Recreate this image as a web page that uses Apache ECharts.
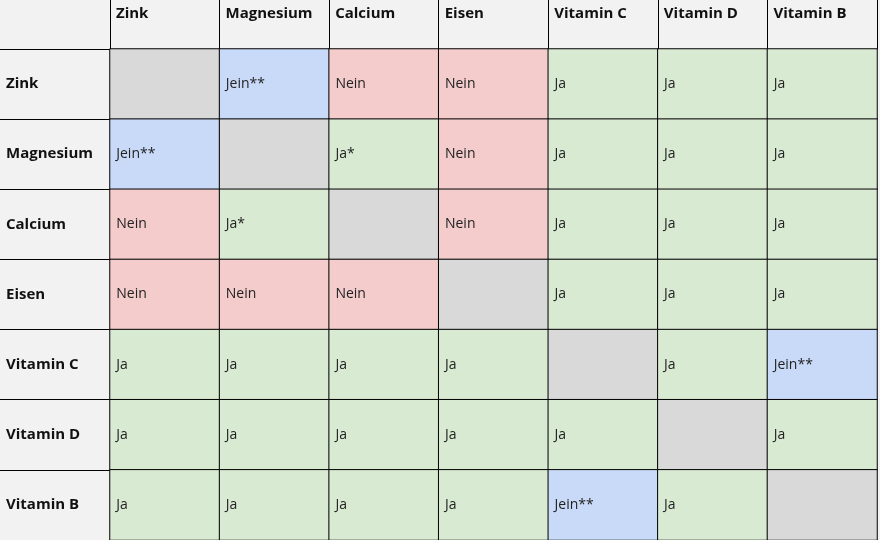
<!DOCTYPE html>
<html><head><meta charset="utf-8">
<script src="https://cdn.jsdelivr.net/npm/echarts@6/dist/echarts.min.js"></script>
<style>html,body{margin:0;padding:0;background:#f2f2f2}#c{width:880px;height:540px}</style>
</head><body><div id="c"></div>
<script>
const cols = ['Zink','Magnesium','Calcium','Eisen','Vitamin C','Vitamin D','Vitamin B'];
const rows = ['Zink','Magnesium','Calcium','Eisen','Vitamin C','Vitamin D','Vitamin B'];
const cellText = [
  ['', 'Jein**', 'Nein', 'Nein', 'Ja', 'Ja', 'Ja'],
  ['Jein**', '', 'Ja*', 'Nein', 'Ja', 'Ja', 'Ja'],
  ['Nein', 'Ja*', '', 'Nein', 'Ja', 'Ja', 'Ja'],
  ['Nein', 'Nein', 'Nein', '', 'Ja', 'Ja', 'Ja'],
  ['Ja', 'Ja', 'Ja', 'Ja', '', 'Ja', 'Jein**'],
  ['Ja', 'Ja', 'Ja', 'Ja', 'Ja', '', 'Ja'],
  ['Ja', 'Ja', 'Ja', 'Ja', 'Jein**', 'Ja', '']
];
const codeOf = {'':0,'Jein**':1,'Nein':2,'Ja':3,'Ja*':3};
const data = [];
cellText.forEach((r,i)=>r.forEach((t,j)=>data.push([j,i,codeOf[t],t])));
const FONT = '"Open Sans", Lato, sans-serif';
const chart = echarts.init(document.getElementById('c'));
chart.setOption({
  backgroundColor:'#f2f2f2',
  animation:false,
  grid:{left:110, top:49, width:770, height:514},
  xAxis:[{
    type:'category', data:cols, position:'top',
    axisLine:{show:true,lineStyle:{color:'#000',width:1}},
    axisTick:{show:true,length:49,lineStyle:{color:'#000',width:1}},
    axisLabel:{show:false}, splitLine:{show:false}
  },{
    type:'value', position:'top', min:0, max:7, interval:1,
    axisLine:{show:false}, axisTick:{show:false}, splitLine:{show:false},
    axisLabel:{formatter:v=>cols[v]||'', align:'left', verticalAlign:'top', margin:43,
      padding:[0,0,0,6], fontFamily:FONT, fontWeight:'bold', fontSize:15, color:'#111'}
  }],
  yAxis:{
    type:'category', data:rows, inverse:true,
    axisLine:{show:true,lineStyle:{color:'#000',width:1}},
    axisTick:{show:true,length:110,lineStyle:{color:'#000',width:1}},
    axisLabel:{align:'left', margin:104, fontFamily:FONT, fontWeight:'bold', fontSize:15, color:'#111'},
    splitLine:{show:false}
  },
  visualMap:{type:'piecewise', show:false, dimension:2,
    pieces:[{value:0,color:'#d9d9d9'},{value:1,color:'#c9daf8'},{value:2,color:'#f4cccc'},{value:3,color:'#d9ead3'}]},
  series:[{
    type:'heatmap', xAxisIndex:0, data:data,
    itemStyle:{borderColor:'#000',borderWidth:1},
    label:{show:true, position:'insideLeft', distance:7, formatter:p=>p.data[3],
      fontFamily:FONT, fontSize:14, color:'#222'},
    emphasis:{disabled:true}
  }]
});
</script></body></html>
